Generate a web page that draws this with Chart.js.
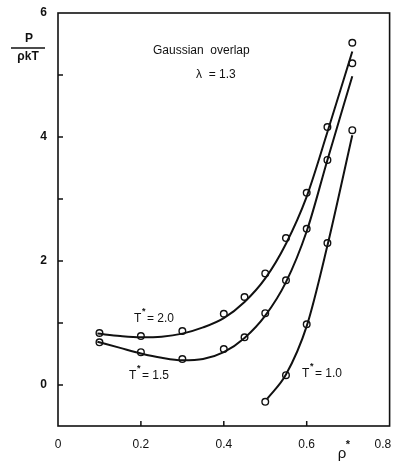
<!DOCTYPE html>
<html>
<head>
<meta charset="utf-8">
<script src="https://cdn.jsdelivr.net/npm/chart.js@4/dist/chart.umd.min.js"></script>
<style>
  html, body { margin: 0; padding: 0; background: #fff; }
  #wrap { width: 395px; height: 465px; }
</style>
</head>
<body>
<div id="wrap"><canvas id="eos"></canvas></div>
<script>
// Reduced pressure P/(rho kT) against density rho*, Gaussian overlap, lambda = 1.3

// simulation points
const rhoPts = [0.1, 0.2, 0.3, 0.4, 0.45, 0.5, 0.55, 0.6, 0.65, 0.71];
const pT20 = [0.84, 0.79, 0.87, 1.15, 1.42, 1.80, 2.37, 3.10, 4.16, 5.52];
const pT15 = [0.69, 0.53, 0.42, 0.58, 0.77, 1.16, 1.69, 2.52, 3.63, 5.19];
const rhoPtsT10 = [0.5, 0.55, 0.6, 0.65, 0.71];
const pT10 = [-0.27, 0.16, 0.98, 2.29, 4.11];

// smooth fitted curves
const rhoCurve = [0.095, 0.15, 0.2, 0.25, 0.3, 0.35, 0.4, 0.45, 0.5, 0.55, 0.6, 0.65, 0.71];
const cT20 = [0.83, 0.79, 0.77, 0.78, 0.83, 0.93, 1.08, 1.34, 1.72, 2.28, 3.04, 4.08, 5.38];
const cT15 = [0.70, 0.60, 0.51, 0.44, 0.40, 0.42, 0.53, 0.76, 1.12, 1.66, 2.48, 3.63, 4.98];
const rhoCurveT10 = [0.505, 0.55, 0.6, 0.65, 0.71];
const cT10 = [-0.22, 0.17, 0.95, 2.25, 4.03];

const xTicks = [0, 0.2, 0.4, 0.6, 0.8];
const xTickLabels = ["0", "0.2", "0.4", "0.6", "0.8    "]; // last one nudged left of the edge
const yTicks = [0, 1, 2, 3, 4, 5, 6];
const yLabelled = [0, 2, 4, 6];

const FONT = "'Liberation Sans', Arial, sans-serif";
const INK = "#111";

const pairs = (xs, ys) => xs.map((x, i) => ({ x, y: ys[i] }));

function curve(xs, ys) {
  return {
    type: "line",
    data: pairs(xs, ys),
    borderColor: INK,
    borderWidth: 2,
    pointRadius: 0,
    fill: false,
    cubicInterpolationMode: "monotone",
  };
}

function markers(xs, ys) {
  return {
    type: "scatter",
    data: pairs(xs, ys),
    pointRadius: 3.3,
    pointBorderWidth: 1.4,
    pointBorderColor: INK,
    pointBackgroundColor: "#fff",
  };
}

// frame, inward tick marks and the text written on the plot
const decorations = {
  id: "decorations",
  afterDraw(chart) {
    const { ctx, chartArea: a, scales } = chart;
    const x = scales.x, y = scales.y;
    ctx.save();
    ctx.strokeStyle = INK;
    ctx.lineWidth = 1.6;
    ctx.strokeRect(a.left, a.top, a.right - a.left, a.bottom - a.top);

    ctx.lineWidth = 1.5;
    ctx.beginPath();
    yTicks.slice(0, -1).forEach((v) => {
      const py = y.getPixelForValue(v);
      ctx.moveTo(a.left, py);
      ctx.lineTo(a.left + 5, py);
    });
    xTicks.slice(1, -1).forEach((v) => {
      const px = x.getPixelForValue(v);
      ctx.moveTo(px, a.bottom);
      ctx.lineTo(px, a.bottom - 5);
    });
    ctx.stroke();

    ctx.fillStyle = INK;
    ctx.textBaseline = "middle";

    // y-axis fraction label
    ctx.textAlign = "center";
    ctx.font = `bold 12px ${FONT}`;
    ctx.fillText("P", 29, 39);
    ctx.fillText("\u03C1kT", 28, 57);
    ctx.lineWidth = 1.3;
    ctx.beginPath();
    ctx.moveTo(11, 48);
    ctx.lineTo(45, 48);
    ctx.stroke();

    // x-axis label
    ctx.font = `15px ${FONT}`;
    ctx.fillText("\u03C1", 342, 454);
    ctx.font = `bold 11px ${FONT}`;
    ctx.fillText("*", 348, 445);

    ctx.textAlign = "left";
    ctx.font = `12px ${FONT}`;
    ctx.fillText("Gaussian  overlap", 153, 51);
    ctx.fillText("\u03BB  = 1.3", 196, 75);

    const tLabel = (px, py, value) => {
      ctx.font = `12px ${FONT}`;
      ctx.fillText("T", px, py);
      ctx.font = `bold 9px ${FONT}`;
      ctx.fillText("*", px + 8, py - 7);
      ctx.font = `12px ${FONT}`;
      ctx.fillText("= " + value, px + 13, py);
    };
    tLabel(134, 319, "2.0");
    tLabel(129, 376, "1.5");
    tLabel(302, 374, "1.0");
    ctx.restore();
  },
};

new Chart(document.getElementById("eos"), {
  data: {
    datasets: [
      curve(rhoCurve, cT20),
      curve(rhoCurve, cT15),
      curve(rhoCurveT10, cT10),
      markers(rhoPts, pT20),
      markers(rhoPts, pT15),
      markers(rhoPtsT10, pT10),
    ],
  },
  options: {
    responsive: true,
    maintainAspectRatio: false,
    animation: false,
    layout: { padding: { top: 13, right: 3, left: 0, bottom: 0 } },
    plugins: { legend: { display: false }, tooltip: { enabled: false } },
    scales: {
      x: {
        type: "linear",
        min: 0,
        max: 0.8,
        grid: { display: false, drawTicks: false },
        border: { display: false },
        afterBuildTicks: (s) => { s.ticks = xTicks.map((v) => ({ value: v })); },
        afterFit: (s) => { s.height = 39; s.paddingLeft = 0; s.paddingRight = 0; },
        ticks: {
          color: INK,
          padding: 11,
          maxRotation: 0,
          font: { family: FONT, size: 12 },
          callback: (v, i) => xTickLabels[i],
        },
      },
      y: {
        type: "linear",
        min: -0.66,
        max: 6,
        grid: { display: false, drawTicks: false },
        border: { display: false },
        afterBuildTicks: (s) => { s.ticks = yTicks.map((v) => ({ value: v })); },
        afterFit: (s) => { s.width = 58; s.paddingTop = 0; s.paddingBottom = 0; },
        ticks: {
          color: INK,
          padding: 11,
          font: { family: FONT, size: 12, weight: "bold" },
          callback: (v) => (yLabelled.includes(v) ? String(v) : ""),
        },
      },
    },
  },
  plugins: [decorations],
});
</script>
</body>
</html>
